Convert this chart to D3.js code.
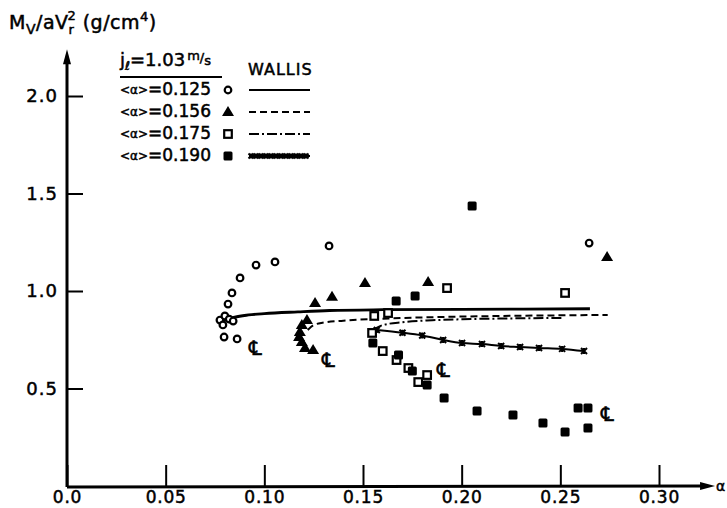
<!DOCTYPE html>
<html>
<head>
<meta charset="utf-8">
<script src="https://cdn.jsdelivr.net/npm/d3@7"></script>
<style>
    body { margin: 0; background: #fff; }
    svg { display: block; }
    text { font-family: "DejaVu Sans", sans-serif; fill: #000; stroke: #000; stroke-width: 0.5px; }
</style>
</head>
<body>
<svg id="chart" width="727" height="508"></svg>
<script>
const xTicks = [0, 0.05, 0.10, 0.15, 0.20, 0.25, 0.30];
const yTicks = [0.5, 1.0, 1.5, 2.0];

const legendLabels = ["0.125", "0.156", "0.175", "0.190"];

// <a> = 0.125, open circles
const circles125 = [
    [0.1054, 1.149], [0.0958, 1.133], [0.0877, 1.067], [0.0836, 0.990], [0.0816, 0.933],
    [0.0775, 0.851], [0.0800, 0.872], [0.0822, 0.856], [0.0842, 0.846], [0.0790, 0.826],
    [0.0796, 0.764], [0.0862, 0.754], [0.1328, 1.231], [0.2646, 1.246]
];

// <a> = 0.156, triangles
const triangles156 = [
    [0.1257, 0.938], [0.1343, 0.970], [0.1510, 1.041], [0.1830, 1.046], [0.2737, 1.174],
    [0.1216, 0.851], [0.1190, 0.826], [0.1180, 0.790], [0.1176, 0.764], [0.1190, 0.738],
    [0.1206, 0.708], [0.1247, 0.697]
];

// <a> = 0.175, open squares
const squares175 = [
    [0.1557, 0.872], [0.1627, 0.887], [0.1546, 0.785], [0.1600, 0.692], [0.1670, 0.646],
    [0.1730, 0.605], [0.1780, 0.533], [0.1825, 0.569], [0.1926, 1.015], [0.2524, 0.990]
];

// <a> = 0.190, filled squares
const squares190 = [
    [0.1550, 0.733], [0.1680, 0.672], [0.1750, 0.590], [0.1825, 0.518], [0.1911, 0.451],
    [0.2078, 0.385], [0.2260, 0.364], [0.2412, 0.323], [0.2524, 0.277], [0.2590, 0.400],
    [0.2640, 0.400], [0.2640, 0.297], [0.1668, 0.949], [0.1764, 0.974], [0.2053, 1.436]
];

// Wallis curves
const wallis125 = [[0.079, 0.846], [0.085, 0.866], [0.092, 0.877], [0.100, 0.884], [0.117, 0.893],
    [0.133, 0.900], [0.160, 0.904], [0.200, 0.906], [0.265, 0.909]];
const wallis156 = [[0.122, 0.800], [0.125, 0.825], [0.130, 0.838], [0.140, 0.848], [0.160, 0.858],
    [0.190, 0.867], [0.220, 0.872], [0.274, 0.877]];
const wallis175 = [[0.155, 0.800], [0.160, 0.825], [0.170, 0.840], [0.185, 0.850], [0.200, 0.855],
    [0.230, 0.860], [0.252, 0.862]];
const wallis190 = [[0.157, 0.800], [0.170, 0.786], [0.180, 0.772], [0.1906, 0.749], [0.2002, 0.733],
    [0.2103, 0.728], [0.220, 0.718], [0.2296, 0.713], [0.2392, 0.708], [0.2509, 0.703], [0.262, 0.692]];

// centre line marks
const centerLines = [[0.0953, 0.708], [0.1323, 0.646], [0.1906, 0.595], [0.2737, 0.369]];

const X_AXIS_END = 0.3284;
const Y_AXIS_END = 2.24;

let svg = d3.select("#chart");

let scX = d3.scaleLinear().domain([0, 0.30]).range([67, 659]);
let scY = d3.scaleLinear().domain([0, 2.0]).range([486, 96]);

function drawAxes() {
    let axisX = d3.axisBottom(scX)
        .tickValues(xTicks)
        .tickSizeInner(-21)
        .tickSizeOuter(0)
        .tickPadding(5)
        .tickFormat(d => d === 0 ? "0.0" : d3.format(".2f")(d));

    let gx = svg.append("g")
        .attr("transform", `translate(0, ${scY(0)})`)
        .call(axisX);
    gx.select(".domain").remove();
    gx.selectAll(".tick line").attr("stroke-width", 2);
    gx.selectAll(".tick text")
        .attr("font-size", 17)
        .attr("letter-spacing", 0.8)
        .attr("font-family", "DejaVu Sans");

    let axisY = d3.axisLeft(scY)
        .tickValues(yTicks)
        .tickSizeInner(-16)
        .tickSizeOuter(0)
        .tickPadding(9)
        .tickFormat(d3.format(".1f"));

    let gy = svg.append("g")
        .attr("transform", `translate(${scX(0)}, 0)`)
        .call(axisY);
    gy.select(".domain").remove();
    gy.selectAll(".tick line").attr("stroke-width", 2);
    gy.selectAll(".tick text")
        .attr("font-size", 18)
        .attr("letter-spacing", 1)
        .attr("font-family", "DejaVu Sans");

    // axis lines with arrow heads
    let x0 = scX(0), y0 = scY(0);
    let xe = scX(X_AXIS_END), ye = scY(Y_AXIS_END);
    svg.append("path")
        .attr("d", `M${x0},${y0 + 1}L${xe - 12},${y0}`)
        .attr("stroke", "#000").attr("stroke-width", 3).attr("fill", "none");
    svg.append("path")
        .attr("d", `M${xe - 15},${y0 - 4}L${xe},${y0}L${xe - 15},${y0 + 4}Z`)
        .attr("fill", "#000");
    svg.append("path")
        .attr("d", `M${x0},${y0 + 1}L${x0},${ye + 12}`)
        .attr("stroke", "#000").attr("stroke-width", 3).attr("fill", "none");
    svg.append("path")
        .attr("d", `M${x0 - 4},${ye + 15}L${x0},${ye}L${x0 + 4},${ye + 15}Z`)
        .attr("fill", "#000");

    svg.append("text")
        .attr("x", xe + 1)
        .attr("y", y0 + 5)
        .attr("font-size", 14)
        .text("α");

    // y title
    let t = svg.append("text")
        .attr("x", 9)
        .attr("y", 29)
        .attr("font-size", 19)
        .attr("letter-spacing", 0.5);
    t.append("tspan").text("M");
    t.append("tspan").attr("font-size", 14).attr("dy", 5).text("V");
    t.append("tspan").attr("dy", -5).text("/aV");
    t.append("tspan").attr("font-size", 13).attr("dy", 5).text("r");
    t.append("tspan").attr("font-size", 13).attr("dx", -7).attr("dy", -14).text("2");
    t.append("tspan").attr("dy", 9).text(" (g/cm");
    t.append("tspan").attr("font-size", 13).attr("dy", -8).text("4");
    t.append("tspan").attr("dy", 8).text(")");
}

function drawCircle(g, x, y) {
    g.append("circle")
        .attr("cx", x).attr("cy", y).attr("r", 3.3)
        .attr("fill", "#fff").attr("stroke", "#000").attr("stroke-width", 2.2);
}

function drawTriangle(g, x, y) {
    g.append("path")
        .attr("d", `M${x},${y - 6}L${x + 6},${y + 4}L${x - 6},${y + 4}Z`)
        .attr("fill", "#000");
}

function drawOpenSquare(g, x, y) {
    g.append("rect")
        .attr("x", x - 3.8).attr("y", y - 3.8).attr("width", 7.6).attr("height", 7.6)
        .attr("fill", "#fff").attr("stroke", "#000").attr("stroke-width", 2.2);
}

function drawFilledSquare(g, x, y) {
    g.append("rect")
        .attr("x", x - 4.5).attr("y", y - 4.5).attr("width", 9).attr("height", 9)
        .attr("rx", 1.5)
        .attr("fill", "#000");
}

function drawStar(g, x, y, s) {
    g.append("path")
        .attr("d", `M${x - s},${y - s}L${x + s},${y + s}M${x - s},${y + s}L${x + s},${y - s}M${x},${y - s}L${x},${y + s}`)
        .attr("stroke", "#000").attr("stroke-width", 2).attr("fill", "none");
}

const markerFns = [drawCircle, drawTriangle, drawOpenSquare, drawFilledSquare];
const dashes = [null, "7,4", "10,3,2,3", null];

function drawCurves() {
    let line = d3.line()
        .x(d => scX(d[0]))
        .y(d => scY(d[1]))
        .curve(d3.curveMonotoneX);

    [wallis125, wallis156, wallis175, wallis190].forEach((arr, i) => {
        let p = svg.append("path")
            .attr("d", line(arr))
            .attr("fill", "none")
            .attr("stroke", "#000")
            .attr("stroke-width", i === 0 ? 2.8 : 2);
        if (dashes[i]) p.attr("stroke-dasharray", dashes[i]);
    });

    let gs = svg.append("g");
    wallis190.forEach(d => drawStar(gs, scX(d[0]), scY(d[1]), 3));
}

function drawPoints() {
    let g = svg.append("g");
    [circles125, triangles156, squares175, squares190].forEach((arr, i) => {
        arr.forEach(d => markerFns[i](g, scX(d[0]), scY(d[1])));
    });

    centerLines.forEach(d => {
        g.append("text")
            .attr("x", scX(d[0]))
            .attr("y", scY(d[1]))
            .attr("dy", "0.35em")
            .attr("text-anchor", "middle")
            .attr("font-size", 20)
            .text("℄");
    });
}

function drawLegend() {
    let g = svg.append("g");
    let head = g.append("text").attr("x", 120).attr("y", 66).attr("font-size", 18);
    head.append("tspan").text("j");
    head.append("tspan").attr("font-size", 12).attr("dy", 4).attr("font-style", "italic").text("ℓ");
    head.append("tspan").attr("dy", -4).text("=1.03");
    head.append("tspan").attr("font-size", 13).attr("dx", 2).attr("dy", -6).text("m");
    head.append("tspan").attr("font-size", 13).attr("dy", 2).text("/");
    head.append("tspan").attr("font-size", 13).attr("dy", 3).text("s");

    g.append("line")
        .attr("x1", 120).attr("x2", 222).attr("y1", 77).attr("y2", 77)
        .attr("stroke", "#000").attr("stroke-width", 2);

    g.append("text")
        .attr("x", 248).attr("y", 75)
        .attr("font-size", 16)
        .attr("letter-spacing", 1)
        .text("WALLIS");

    legendLabels.forEach((lab, i) => {
        let y = 95 + 22 * i;
        let t = g.append("text").attr("x", 120).attr("y", y).attr("font-size", 17);
        t.append("tspan").attr("font-size", 12).attr("dy", -1).text("<α>");
        t.append("tspan").attr("dy", 1).text("=" + lab);

        markerFns[i](g, 228, y - 5);

        let l = g.append("line")
            .attr("x1", 249).attr("x2", 310).attr("y1", y - 5).attr("y2", y - 5)
            .attr("stroke", "#000").attr("stroke-width", 2);
        if (dashes[i]) l.attr("stroke-dasharray", dashes[i]);
        if (i === 3) {
            d3.range(251, 310, 5).forEach(x => drawStar(g, x, y - 5, 2.5));
        }
    });
}

drawAxes();
drawCurves();
drawPoints();
drawLegend();
</script>
</body>
</html>
